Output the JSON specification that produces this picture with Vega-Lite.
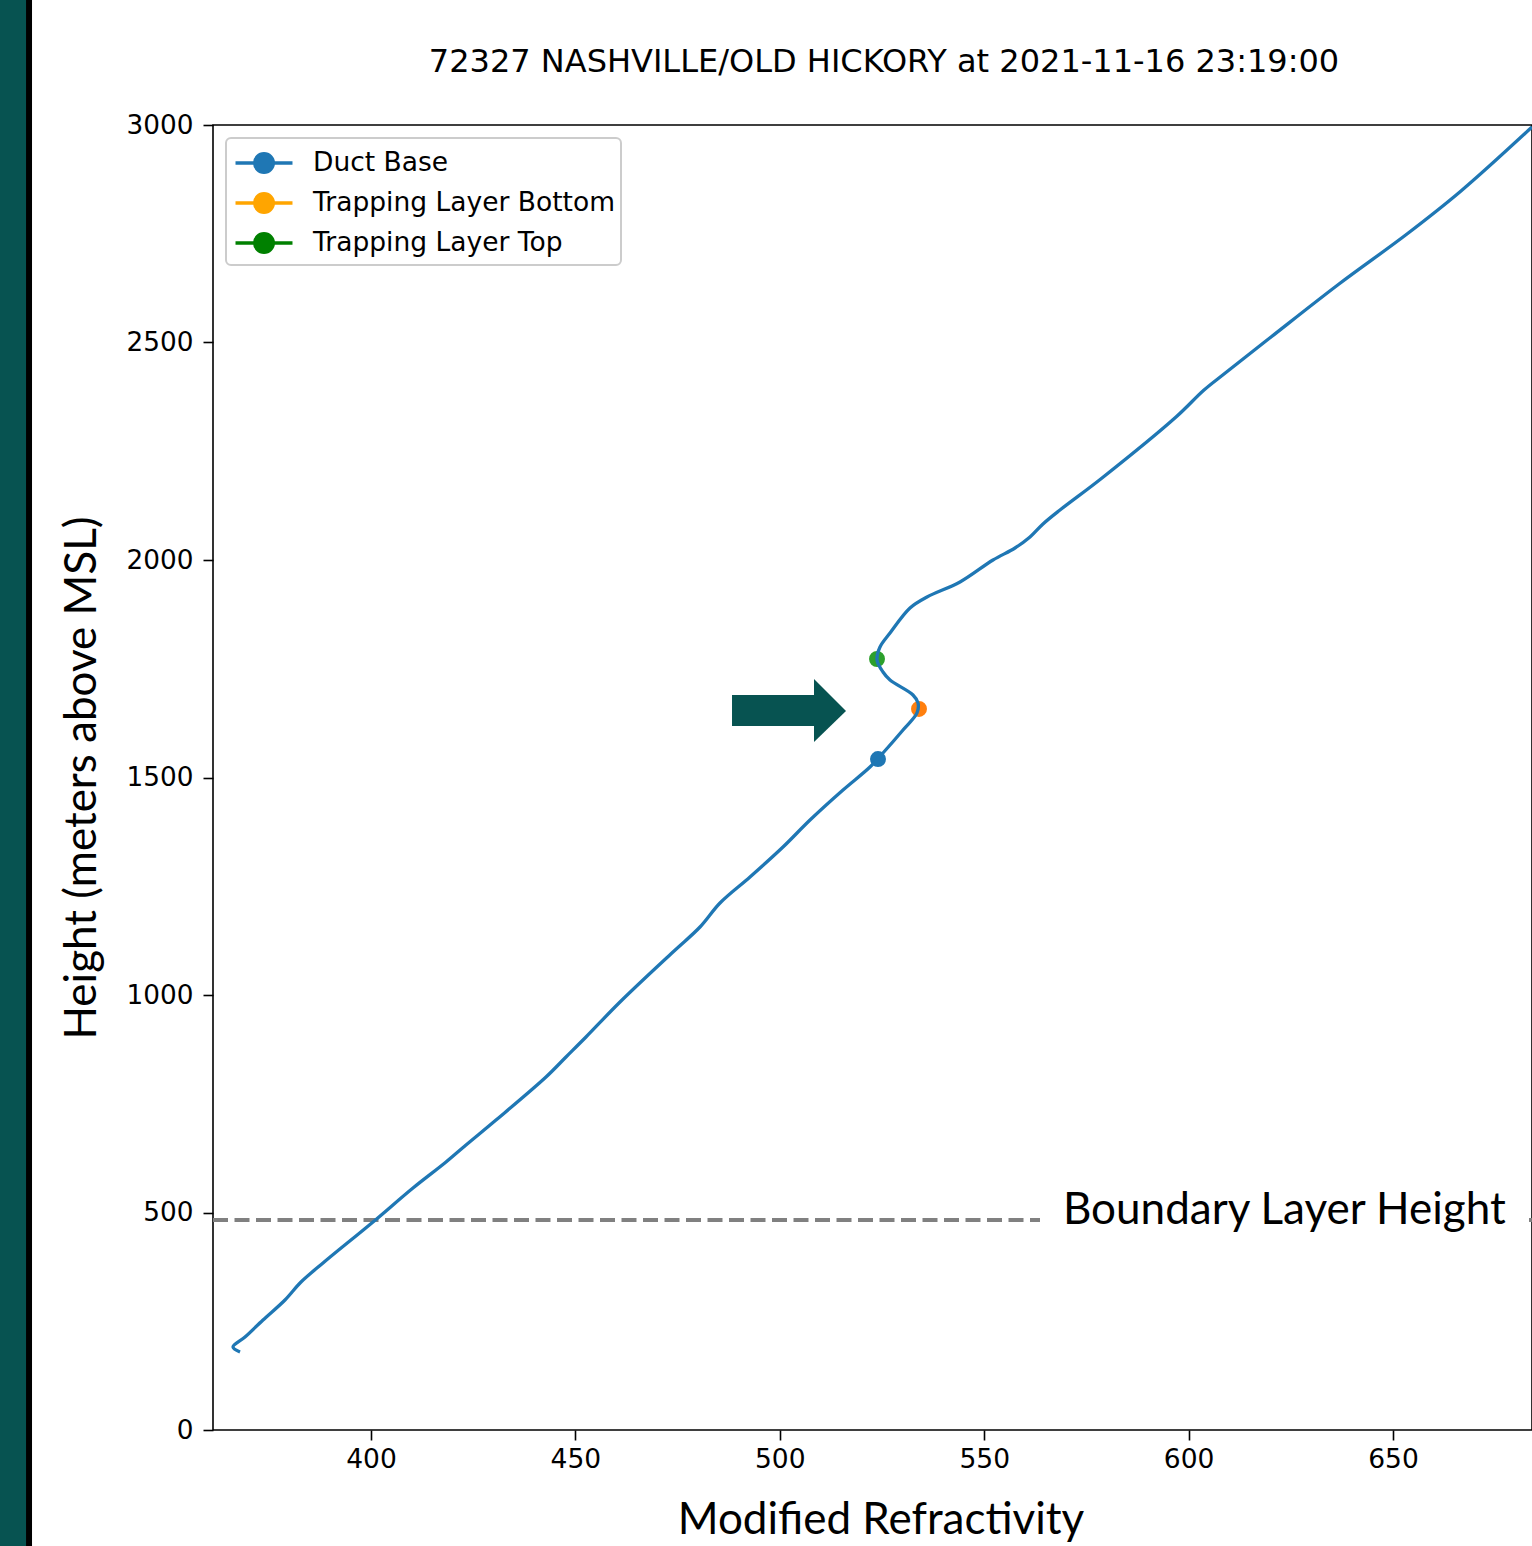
{
  "$schema": "https://vega.github.io/schema/vega-lite/v6.json",
  "width": 1319,
  "height": 1305,
  "autosize": {"type": "none"},
  "padding": {"left": 213, "top": 125, "right": 0, "bottom": 116},
  "background": "white",
  "config": {
    "view": {"stroke": "black", "strokeWidth": 1.6},
    "legend": {"strokeWidth": 2}
  },
  "title": {
    "text": "72327 NASHVILLE/OLD HICKORY at 2021-11-16 23:19:00",
    "font": "DejaVu Sans",
    "fontSize": 32,
    "fontWeight": "normal",
    "color": "black",
    "anchor": "middle",
    "dx": 11.5,
    "baseline": "alphabetic",
    "offset": -104
  },
  "datasets": {
    "profile": [
      {"N": 367.96, "h": 179.3}, {"N": 366.24, "h": 190.8}, {"N": 369.18, "h": 213.8},
      {"N": 373.58, "h": 252.9}, {"N": 378.96, "h": 298.9}, {"N": 382.88, "h": 340.2},
      {"N": 388.26, "h": 383.9}, {"N": 400.49, "h": 478.2}, {"N": 410.27, "h": 556.3},
      {"N": 418.35, "h": 616.1}, {"N": 423.24, "h": 655.2}, {"N": 430.58, "h": 712.6},
      {"N": 442.81, "h": 811.5}, {"N": 447.7, "h": 857.5}, {"N": 452.59, "h": 903.4},
      {"N": 460.91, "h": 983.9}, {"N": 473.87, "h": 1098.9}, {"N": 480.48, "h": 1156.3},
      {"N": 485.37, "h": 1211.5}, {"N": 492.71, "h": 1271.3}, {"N": 500.78, "h": 1340.2},
      {"N": 507.39, "h": 1402.3}, {"N": 515.46, "h": 1471.3}, {"N": 522.06, "h": 1524.1},
      {"N": 525.24, "h": 1556.3}, {"N": 530.14, "h": 1609.2}, {"N": 533.56, "h": 1648.3},
      {"N": 533.81, "h": 1671.3}, {"N": 532.58, "h": 1689.7}, {"N": 526.96, "h": 1724.1},
      {"N": 525.24, "h": 1742.5}, {"N": 523.78, "h": 1770.1}, {"N": 524.51, "h": 1800.0},
      {"N": 526.96, "h": 1832.2}, {"N": 531.85, "h": 1889.7}, {"N": 536.01, "h": 1914.9},
      {"N": 544.08, "h": 1949.4}, {"N": 552.15, "h": 2000.0}, {"N": 557.53, "h": 2027.6},
      {"N": 561.2, "h": 2052.9}, {"N": 564.38, "h": 2082.8}, {"N": 568.54, "h": 2114.9},
      {"N": 578.82, "h": 2188.5}, {"N": 596.92, "h": 2328.7},
      {"N": 603.77, "h": 2390.8}, {"N": 608.66, "h": 2427.6}, {"N": 620.16, "h": 2512.6},
      {"N": 636.79, "h": 2634.5}, {"N": 653.42, "h": 2749.4}, {"N": 666.63, "h": 2848.3},
      {"N": 684.0, "h": 2995.4}
    ],
    "markers": [
      {"N": 524.02, "h": 1542.5, "label": "Duct Base"},
      {"N": 534.05, "h": 1657.5, "label": "Trapping Layer Bottom"},
      {"N": 523.78, "h": 1772.4, "label": "Trapping Layer Top"}
    ],
    "blh": [
      {"N": 361.35, "N2": 563.65, "h": 482.8},
      {"N": 683.27, "N2": 684.5, "h": 482.8}
    ],
    "blhLabel": [{"N": 569.27, "h": 473.6, "text": "Boundary Layer Height"}],
    "arrowShaft": [{"N": 488.31, "N2": 508.6, "h": 1618.4, "h2": 1689.7}],
    "arrowHead": [
      {"N": 508.37, "h": 1581.6, "h2": 1726.4},
      {"N": 516.19, "h": 1652.9, "h2": 1652.9}
    ],
    "tealStrip": [{"N": 250, "N2": 315.61, "h": -300, "h2": 3287.4}],
    "blackStrip": [{"N": 315.61, "N2": 317.08, "h": -300, "h2": 3287.4}]
  },
  "encoding": {
    "x": {
      "field": "N",
      "type": "quantitative",
      "scale": {"domain": [361.35, 684.0], "nice": false, "zero": false, "clamp": false},
      "axis": {
        "values": [400, 450, 500, 550, 600, 650],
        "format": "d",
        "title": "Modified Refractivity",
        "grid": false,
        "domain": false,
        "tickSize": 10,
        "tickWidth": 1.6,
        "tickColor": "black",
        "labelFont": "DejaVu Sans",
        "labelFontSize": 26.5,
        "labelColor": "black",
        "labelPadding": 6,
        "titleFont": "Lato",
        "titleFontSize": 44,
        "titleFontWeight": "normal",
        "titleColor": "black",
        "titleX": 667.5,
        "titleY": 103,
        "titleBaseline": "alphabetic",
        "titleAlign": "center",
        "titleAngle": 0
      }
    },
    "y": {
      "field": "h",
      "type": "quantitative",
      "scale": {"domain": [0, 3000], "nice": false, "zero": false, "clamp": false},
      "axis": {
        "values": [0, 500, 1000, 1500, 2000, 2500, 3000],
        "format": "d",
        "title": "Height (meters above MSL)",
        "grid": false,
        "domain": false,
        "tickSize": 10,
        "tickWidth": 1.6,
        "tickColor": "black",
        "labelFont": "DejaVu Sans",
        "labelFontSize": 26.3,
        "labelColor": "black",
        "labelPadding": 10,
        "titleFont": "Lato",
        "titleFontSize": 44,
        "titleFontWeight": "normal",
        "titleColor": "black",
        "titleX": -118,
        "titleY": 652.5,
        "titleAngle": -90,
        "titleBaseline": "alphabetic",
        "titleAlign": "center"
      }
    }
  },
  "layer": [
    {
      "data": {"name": "tealStrip"},
      "mark": {"type": "rect", "color": "#075351", "clip": false},
      "encoding": {"x2": {"field": "N2"}, "y2": {"field": "h2"}}
    },
    {
      "data": {"name": "blackStrip"},
      "mark": {"type": "rect", "color": "#000000", "clip": false},
      "encoding": {"x2": {"field": "N2"}, "y2": {"field": "h2"}}
    },
    {
      "data": {"name": "blh"},
      "mark": {"type": "rule", "color": "#808080", "strokeWidth": 4, "strokeDash": [15, 6.5], "clip": true},
      "encoding": {"x2": {"field": "N2"}}
    },
    {
      "data": {"name": "blhLabel"},
      "mark": {"type": "text", "font": "Lato", "fontSize": 44, "align": "left", "baseline": "alphabetic", "color": "black"},
      "encoding": {"text": {"field": "text"}}
    },
    {
      "data": {"name": "arrowShaft"},
      "mark": {"type": "rect", "color": "#075351"},
      "encoding": {"x2": {"field": "N2"}, "y2": {"field": "h2"}}
    },
    {
      "data": {"name": "arrowHead"},
      "mark": {"type": "area", "color": "#075351", "orient": "vertical", "opacity": 1},
      "encoding": {"y2": {"field": "h2"}}
    },
    {
      "data": {"name": "markers"},
      "mark": {
        "type": "point",
        "filled": false,
        "opacity": 0,
        "size": 1190,
        "strokeWidth": 3.3,
        "shape": "M-1.652,0L1.652,0M0.543,0A0.543,0.543,0,1,1,-0.543,0A0.543,0.543,0,1,1,0.543,0M0.46,0A0.46,0.46,0,1,1,-0.46,0A0.46,0.46,0,1,1,0.46,0M0.38,0A0.38,0.38,0,1,1,-0.38,0A0.38,0.38,0,1,1,0.38,0M0.3,0A0.3,0.3,0,1,1,-0.3,0A0.3,0.3,0,1,1,0.3,0M0.22,0A0.22,0.22,0,1,1,-0.22,0A0.22,0.22,0,1,1,0.22,0M0.14,0A0.14,0.14,0,1,1,-0.14,0A0.14,0.14,0,1,1,0.14,0M0.06,0A0.06,0.06,0,1,1,-0.06,0A0.06,0.06,0,1,1,0.06,0"
      },
      "encoding": {
        "stroke": {
          "field": "label",
          "type": "nominal",
          "scale": {
            "domain": ["Duct Base", "Trapping Layer Bottom", "Trapping Layer Top"],
            "range": ["#1f77b4", "#FFA500", "#008000"]
          },
          "legend": {
            "title": null,
            "orient": "top-left",
            "offset": 13,
            "padding": 6,
            "cornerRadius": 5,
            "strokeColor": "#cccccc",
            "fillColor": "white",
            "labelFont": "DejaVu Sans",
            "labelFontSize": 26.5,
            "labelColor": "black",
            "labelOffset": 30,
            "labelLimit": 0,
            "rowPadding": 5,
            "symbolOffset": 13,
            "symbolSize": 1190,
            "symbolOpacity": 1,
            "symbolStrokeWidth": 3.3
          }
        }
      }
    },
    {
      "data": {"name": "markers"},
      "mark": {"type": "point", "filled": true, "opacity": 1, "size": 254, "shape": "circle"},
      "encoding": {
        "color": {
          "field": "label",
          "type": "nominal",
          "scale": {
            "domain": ["Duct Base", "Trapping Layer Bottom", "Trapping Layer Top"],
            "range": ["#1f77b4", "#ff7f0e", "#2ca02c"]
          },
          "legend": null
        }
      }
    },
    {
      "data": {"name": "profile"},
      "mark": {"type": "line", "color": "#1f77b4", "strokeWidth": 3.3, "clip": true, "interpolate": "catmull-rom"},
      "encoding": {"order": {"field": "h", "type": "quantitative"}}
    }
  ]
}
